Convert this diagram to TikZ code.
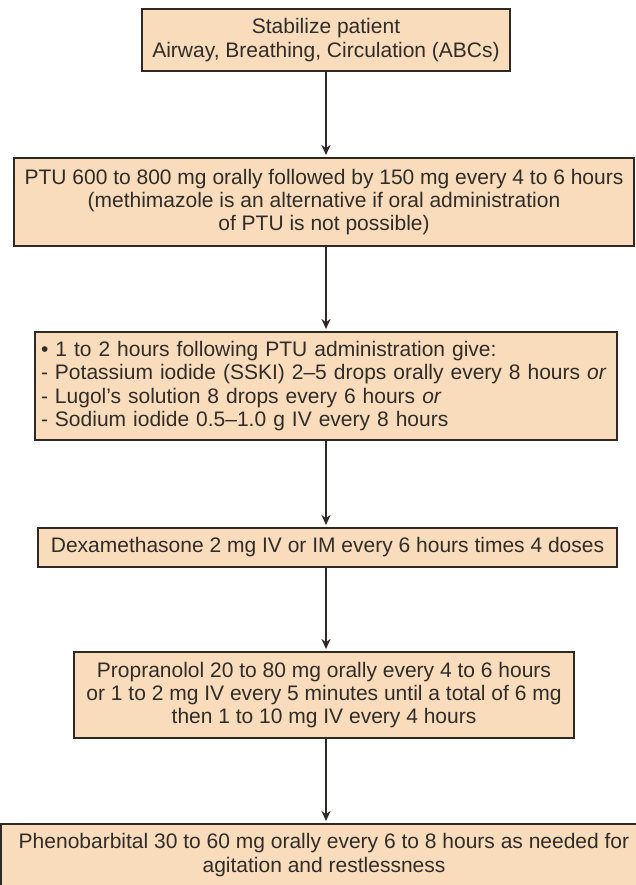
\documentclass[tikz,border=0pt]{standalone}
\usepackage{fontspec}
\setmainfont{Liberation Sans}
\usepackage{xcolor}
\usetikzlibrary{arrows.meta}

\definecolor{boxfill}{RGB}{248,220,188}
\definecolor{boxline}{RGB}{48,40,36}
\definecolor{inktext}{RGB}{50,44,40}

\begin{document}
\begin{tikzpicture}[x=1pt,y=-1pt,
  stepbox/.style={rectangle, draw=boxline, line width=2pt, fill=boxfill,
    text=inktext, align=center, inner sep=0pt,
    font=\fontsize{21}{23.2}\selectfont},
  flow/.style={-{Stealth[length=10pt,width=9pt]}, boxline, line width=2pt, shorten >=2pt}]
\useasboundingbox (0,0) rectangle (636,885);
\clip (0,0) rectangle (636,885);
% Define the nodes
\coordinate (spine) at (326,0);
\node[stepbox, minimum width=368pt, minimum height=62pt] at (326,40) (stab)
  {Stabilize patient\\Airway, Breathing, Circulation (ABCs)};
\node[stepbox, minimum width=620pt, minimum height=88pt] at (324,202) (ptu)
  {PTU 600 to 800 mg orally followed by 150 mg every 4 to 6 hours\\
   (methimazole is an alternative if oral administration\\
   of PTU is not possible)};
\node[stepbox, align=left, text width=570pt, inner xsep=6pt, minimum height=108pt] at (326,386) (iod)
  {\textbullet\ 1 to 2 hours following PTU administration give:\\
   - Potassium iodide (SSKI) 2--5 drops orally every 8 hours \textit{or}\\
   - Lugol's solution 8 drops every 6 hours \textit{or}\\
   - Sodium iodide 0.5--1.0 g IV every 8 hours};
\node[stepbox, minimum width=579pt, minimum height=39pt] at (327.5,547.5) (dexa)
  {Dexamethasone 2 mg IV or IM every 6 hours times 4 doses};
\node[stepbox, minimum width=500pt, minimum height=86pt] at (324,695) (prop)
  {Propranolol 20 to 80 mg orally every 4 to 6 hours\\
   or 1 to 2 mg IV every 5 minutes until a total of 6 mg\\
   then 1 to 10 mg IV every 4 hours};
\node[stepbox, minimum width=646pt, minimum height=62pt] at (324,855) (pheno)
  {Phenobarbital 30 to 60 mg orally every 6 to 8 hours as needed for\\
   agitation and restlessness};
% Draw the paths
\draw[flow] (stab.south -| spine) -- (ptu.north -| spine);
\draw[flow] (ptu.south -| spine) -- (iod.north -| spine);
\draw[flow] (iod.south -| spine) -- (dexa.north -| spine);
\draw[flow] (dexa.south -| spine) -- (prop.north -| spine);
\draw[flow] (prop.south -| spine) -- (pheno.north -| spine);
\end{tikzpicture}
\end{document}
